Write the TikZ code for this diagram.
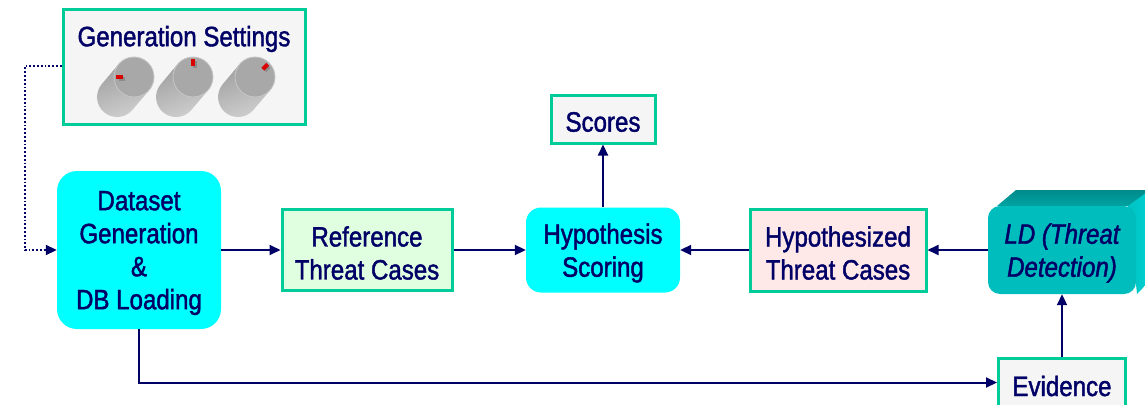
\documentclass[tikz,border=0pt]{standalone}
\usepackage{fontspec}
\setmainfont{Liberation Sans}[FakeStretch=0.86,FakeBold=1.5]
\usetikzlibrary{arrows.meta,calc}
\definecolor{navy}{HTML}{000066}
\definecolor{teal1}{HTML}{00CC99}
\definecolor{cyanf}{HTML}{00FFFF}
\definecolor{refg}{HTML}{E0FFE0}
\definecolor{hypp}{HTML}{FFE8E8}
\definecolor{lgray}{HTML}{F5F5F5}
\definecolor{ldfront}{HTML}{00BDBD}
\definecolor{ldtop}{HTML}{00A3A3}
\definecolor{ldside}{HTML}{00D8D8}
\tikzset{
  lbl/.style={font=\fontsize{28}{33}\selectfont, text=navy, align=center, inner sep=0pt},
  txt/.style={label={[lbl,yshift=-3pt]center:{#1}}},
  sqbox/.style={draw=teal1, line width=3pt, inner sep=0pt},
  rndbox/.style={fill=cyanf, draw=none, inner sep=0pt},
  arr/.style={draw=navy, line width=2pt, -{Triangle[length=11pt,width=10pt]}},
  dotarr/.style={draw=navy, line width=1.8pt, dotted, -{Triangle[length=11pt,width=10pt]}},
}
\begin{document}
\begin{tikzpicture}[x=1pt,y=-1pt]
\useasboundingbox (0,0) rectangle (1145,404);
\fill[white] (0,0) rectangle (1145,404);

% Generation settings
\node[sqbox, fill=lgray, minimum width=242pt, minimum height=114pt] (gen) at (184,67) {};
\node[lbl] (gentitle) at (184,39) {Generation Settings};
\foreach \kx/\ang in {134/180, 193/270, 255/315} {
  \begin{scope}[shift={(\kx,77)}]
    \shade[left color=black!18, right color=black!40, shading angle=200]
      (15.3,13) -- (-1.7,33) arc[start angle=40.4, end angle=220.4, radius=20]
      -- (-15.3,-13) arc[start angle=220.4, end angle=400.4, radius=20] -- cycle;
    \fill[black!34] (0,0) circle (20);
    \draw[black!22, line width=0.8pt] (0,0) circle (20);
    \draw[black!45, line width=4pt] ($(\ang:11)+(2,1.5)$) -- ($(\ang:17)+(2,1.5)$);
    \draw[red!85!black, line width=4pt] (\ang:11) -- (\ang:18);
  \end{scope}
}

% Main nodes
\node[rndbox, rounded corners=20pt, minimum width=164pt, minimum height=158pt,
  txt={Dataset\\Generation\\\&\\DB Loading}] (dataset) at (139,250) {};
\node[sqbox, fill=refg, minimum width=170pt, minimum height=81pt,
  txt={Reference\\Threat Cases}] (ref) at (367,250) {};
\node[rndbox, rounded corners=15pt, minimum width=154pt, minimum height=85pt,
  txt={Hypothesis\\Scoring}] (hyp) at (603,250) {};
\node[sqbox, fill=lgray, minimum width=104pt, minimum height=48pt,
  txt={Scores}] (scores) at (603,119) {};
\node[sqbox, fill=hypp, minimum width=176pt, minimum height=82pt,
  txt={Hypothesized\\Threat Cases}] (hypd) at (838,250) {};

% LD 3D box
\shade[top color=ldtop!85!black, bottom color=ldtop] (997,206) -- (1016,190) -- (1160,190) -- (1137,206) -- cycle;
\shade[left color=ldside!90!black, right color=ldside] (1128,206) -- (1150,190) -- (1160,190) -- (1160,270) -- (1137,294) -- cycle;
\node[rndbox, fill=ldfront, rounded corners=12pt, minimum width=148pt, minimum height=88pt,
  label={[lbl,yshift=-3pt,font=\fontsize{28}{33}\selectfont\itshape]center:{LD (Threat\\Detection)}}] (ld) at (1062,250) {};

\node[sqbox, fill=lgray, minimum width=127pt, minimum height=48pt, anchor=north] (evid) at (1062,357) {};
\node[lbl] (evidtxt) at (1062,386) {Evidence};

% Connectors
\draw[dotarr] (gen.west |- 0,66) -- (25,66) |- (dataset.west);
\draw[arr] (dataset.east) -- (ref.west);
\draw[arr] (ref.east) -- (hyp.west);
\draw[arr] (hypd.west) -- (hyp.east);
\draw[arr] (ld.west) -- (hypd.east);
\draw[arr] (hyp.north) -- (scores.south);
\draw[arr] (evid.north) -- (ld.south);
\draw[arr] (dataset.south) |- (evid.west);
\end{tikzpicture}
\end{document}
